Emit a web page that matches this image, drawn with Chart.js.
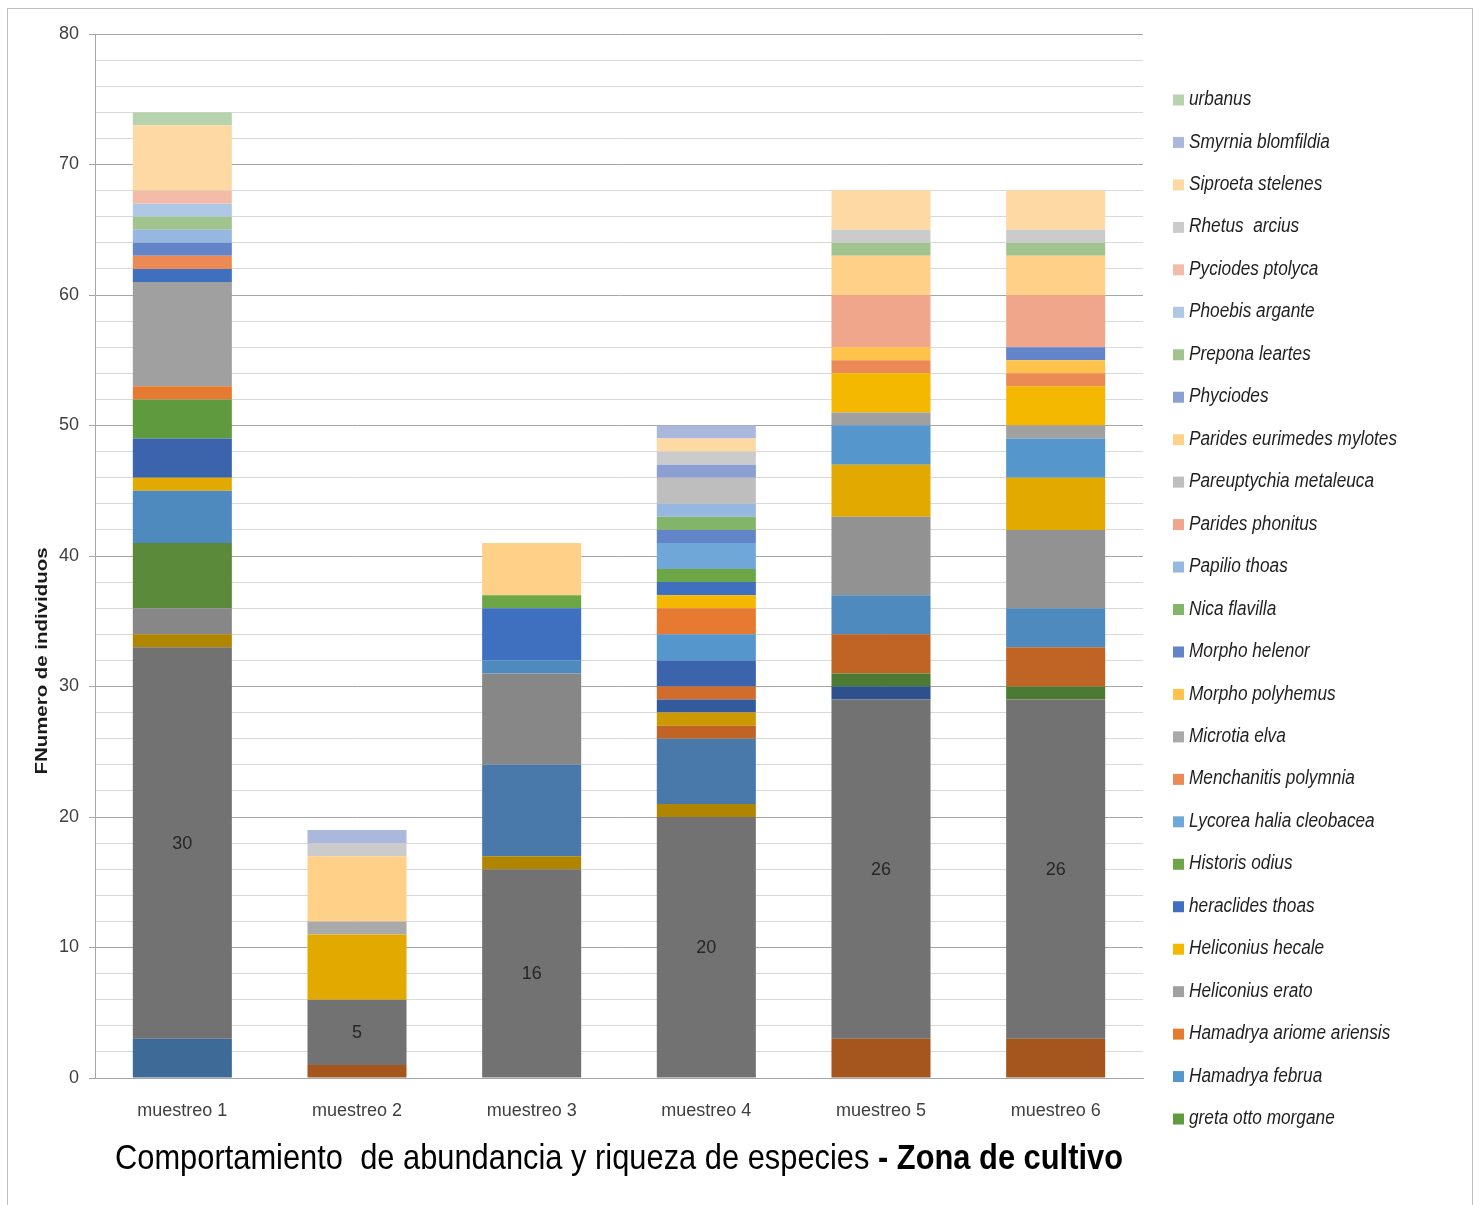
<!DOCTYPE html>
<html><head><meta charset="utf-8">
<script src="https://cdn.jsdelivr.net/npm/chart.js@4/dist/chart.umd.min.js"></script>
<style>html,body{margin:0;padding:0;background:#fff}canvas{display:block}</style>
</head><body>
<canvas id="c" width="1479" height="1205"></canvas>
<script>
const categories = ['muestreo 1','muestreo 2','muestreo 3','muestreo 4','muestreo 5','muestreo 6'];
const yTickLabels = [0,10,20,30,40,50,60,70,80];

// Series in stacking order (bottom -> top). Empty names = series not shown in the (truncated) legend.
const seriesNames = ['', '', '', '', '', '', '', '', '', '', '', '', '', '', '', '', '',
  'greta otto morgane','Hamadrya februa','Hamadrya ariome ariensis','Heliconius erato','Heliconius hecale',
  'heraclides thoas','Historis odius','Lycorea halia cleobacea','Menchanitis polymnia','Microtia elva',
  'Morpho polyhemus','Morpho helenor','Nica flavilla','Papilio thoas','Parides phonitus',
  'Pareuptychia metaleuca','Parides eurimedes mylotes','Phyciodes','Prepona leartes','Phoebis argante',
  'Pyciodes ptolyca','Rhetus  arcius','Siproeta stelenes','Smyrnia blomfildia','urbanus'];

const seriesColors = ['#A5561E','#3D6A96','#727272','#B08500','#4879AA','#878787','#5A8A3A','#2E508C',
  '#4C7A33','#C06426','#CC9A00','#345A9E','#D26C2C','#4E8ABE','#929292','#E2AA00','#3C64AC',
  '#5F9A3E','#5596CC','#E57A30','#A0A0A0','#F5B800','#3F6FBF','#6CA646','#6FA8D8','#EB8A55','#A9A9A9',
  '#FFC24A','#6384C8','#82B46A','#96B8E0','#EFA68A','#BEBEBE','#FFD088','#8B9FD3','#A1C48F','#AFC8E6',
  '#F2BCA8','#CBCBCB','#FFD9A3','#AAB8DD','#B7D3AE'];

const seriesValues = [
  [0,1,0,0,3,3],   // hidden (brown)
  [3,0,0,0,0,0],   // hidden (steel blue)
  [30,5,16,20,26,26], // hidden (dark gray, labelled)
  [1,0,1,1,0,0],
  [0,0,7,5,0,0],
  [2,0,7,0,0,0],
  [5,0,0,0,0,0],
  [0,0,0,0,1,0],
  [0,0,0,0,1,1],
  [0,0,0,1,3,3],
  [0,0,0,1,0,0],
  [0,0,0,1,0,0],
  [0,0,0,1,0,0],
  [4,0,1,0,3,3],
  [0,0,0,0,6,6],
  [1,5,0,0,4,4],
  [3,0,0,2,0,0],
  [3,0,0,0,0,0],   // greta otto morgane
  [0,0,0,2,3,3],   // Hamadrya februa
  [1,0,0,2,0,0],   // Hamadrya ariome ariensis
  [8,0,0,0,1,1],   // Heliconius erato
  [0,0,0,1,3,3],   // Heliconius hecale
  [1,0,4,1,0,0],   // heraclides thoas
  [0,0,1,1,0,0],   // Historis odius
  [0,0,0,2,0,0],   // Lycorea halia cleobacea
  [1,0,0,0,1,1],   // Menchanitis polymnia
  [0,1,0,0,0,0],   // Microtia elva
  [0,0,0,0,1,1],   // Morpho polyhemus
  [1,0,0,1,0,1],   // Morpho helenor
  [0,0,0,1,0,0],   // Nica flavilla
  [1,0,0,1,0,0],   // Papilio thoas
  [0,0,0,0,4,4],   // Parides phonitus
  [0,0,0,2,0,0],   // Pareuptychia metaleuca
  [0,5,4,0,3,3],   // Parides eurimedes mylotes
  [0,0,0,1,0,0],   // Phyciodes
  [1,0,0,0,1,1],   // Prepona leartes
  [1,0,0,0,0,0],   // Phoebis argante
  [1,0,0,0,0,0],   // Pyciodes ptolyca
  [0,1,0,1,1,1],   // Rhetus arcius
  [5,0,0,1,3,3],   // Siproeta stelenes
  [0,1,0,1,0,0],   // Smyrnia blomfildia
  [1,0,0,0,0,0]    // urbanus
];
const labelledSeries = 2;

const datasets = seriesNames.map((n,i)=>({
  label: n,
  data: seriesValues[i],
  backgroundColor: seriesColors[i],
  borderWidth: 0,
  categoryPercentage: 1,
  barPercentage: 0.567
}));

const FONT = '"Liberation Sans", Arial, sans-serif';

function measure(ctx, text, style, base){
  ctx.font = style + ' ' + base + 'px ' + FONT;
  return ctx.measureText(text).width;
}

const decor = {
  id:'decor',
  afterDraw(chart){
    const ctx = chart.ctx;
    ctx.save();
    // frame
    ctx.strokeStyle = '#bfbfbf'; ctx.lineWidth = 1;
    ctx.strokeRect(7.5, 8.5, 1465, 1200);
    // data labels for labelled series
    const meta = chart.getDatasetMeta(labelledSeries);
    ctx.fillStyle = '#262626';
    ctx.font = '18px ' + FONT;
    ctx.textAlign = 'center'; ctx.textBaseline = 'middle';
    meta.data.forEach((el,i)=>{
      const v = chart.data.datasets[labelledSeries].data[i];
      if(!v) return;
      ctx.fillText(String(v), el.x, (el.y + el.base)/2 + 1);
    });
    // legend
    const items = chart.data.datasets.filter(d=>d.label).slice().reverse();
    const lw = measure(ctx,'Parides eurimedes mylotes','italic',20);
    const lsx = 208/lw;
    items.forEach((d,i)=>{
      const y = 99.5 + i*42.46;
      ctx.fillStyle = d.backgroundColor;
      ctx.fillRect(1173, y-5, 11, 11);
      ctx.fillStyle = '#1f1f1f';
      ctx.font = 'italic 20px ' + FONT;
      ctx.textAlign = 'left'; ctx.textBaseline = 'middle';
      ctx.save(); ctx.translate(1189, y); ctx.scale(lsx,1);
      ctx.fillText(d.label, 0, 0);
      ctx.restore();
    });
    // y axis title
    const yt = 'FNumero de individuos';
    const yw = measure(ctx, yt, 'bold', 16);
    ctx.save();
    ctx.translate(43, 661); ctx.rotate(-Math.PI/2);
    ctx.scale(227/yw,1);
    ctx.font = 'bold 16px ' + FONT; ctx.fillStyle = '#1a1a1a';
    ctx.textAlign='center'; ctx.textBaseline='middle';
    ctx.fillText(yt, 0, 0);
    ctx.restore();
    // bottom title
    const t1 = 'Comportamiento  de abundancia y riqueza de especies ';
    const t2 = '- Zona de cultivo';
    ctx.font = '35px ' + FONT; const w1 = ctx.measureText(t1).width;
    ctx.font = 'bold 35px ' + FONT; const w2 = ctx.measureText(t2).width;
    const sx = 1008/(w1+w2);
    ctx.save(); ctx.translate(115, 1159); ctx.scale(sx,1);
    ctx.fillStyle = '#000'; ctx.textAlign='left'; ctx.textBaseline='middle';
    ctx.font = '35px ' + FONT; ctx.fillText(t1, 0, 0);
    ctx.font = 'bold 35px ' + FONT; ctx.fillText(t2, w1, 0);
    ctx.restore();
    ctx.restore();
  }
};

new Chart(document.getElementById('c'), {
  type:'bar',
  data:{labels:categories, datasets},
  options:{
    responsive:false, animation:false,
    layout:{padding:{top:34,right:336,left:0,bottom:0}},
    plugins:{legend:{display:false}, tooltip:{enabled:false}, title:{display:false}},
    scales:{
      x:{stacked:true,
         grid:{display:false, drawTicks:false},
         border:{display:true, color:'#a6a6a6', width:1},
         ticks:{color:'#404040', font:{size:18, family:FONT}, padding:22},
         afterFit(s){ s.height = 127; }
      },
      y:{stacked:true, min:0, max:80,
         ticks:{stepSize:2, color:'#404040', font:{size:18, family:FONT}, padding:10,
           callback:(v)=> yTickLabels.includes(v) ? String(v) : ''},
         grid:{
           color:(c)=> (c.tick && c.tick.value % 10 === 0) ? '#a6a6a6' : '#d9d9d9',
           tickColor:(c)=> (c.tick && c.tick.value % 10 === 0) ? '#a6a6a6' : 'rgba(0,0,0,0)',
           tickLength:6, lineWidth:1
         },
         border:{display:true, color:'#a6a6a6', width:1},
         afterFit(s){ s.width = 95; }
      }
    }
  },
  plugins:[decor]
});
</script>
</body></html>
